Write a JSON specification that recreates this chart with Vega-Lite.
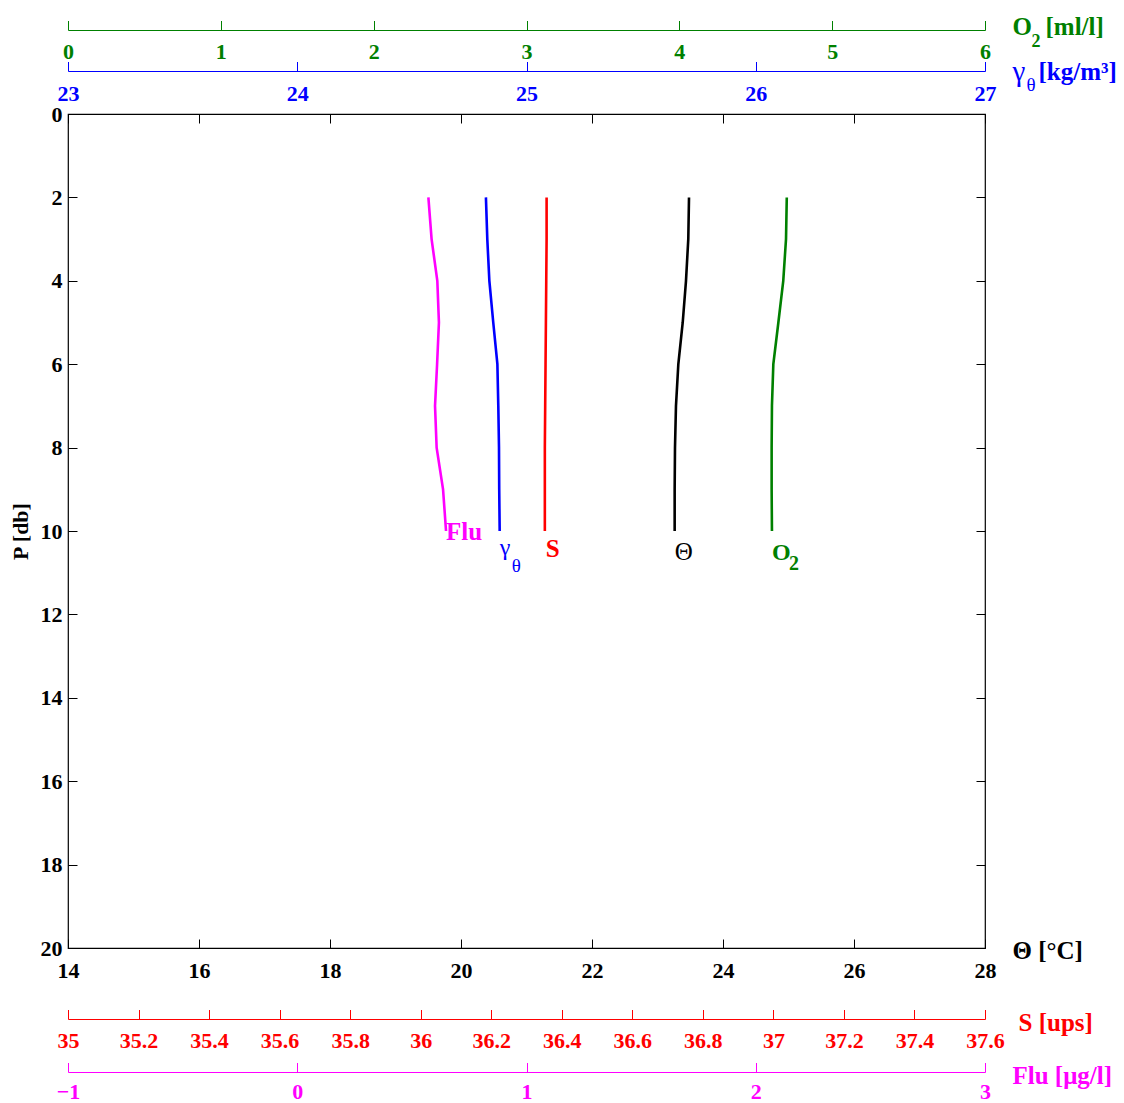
{
  "$schema": "https://vega.github.io/schema/vega-lite/v6.json",
  "width": 917,
  "height": 834,
  "autosize": "none",
  "padding": {"left": 68, "top": 114, "right": 139, "bottom": 155},
  "background": "white",
  "config": {
    "view": {"stroke": "black", "strokeWidth": 1.2},
    "axis": {
      "grid": false,
      "labelFont": "Liberation Serif",
      "labelFontSize": 22,
      "labelFontWeight": "bold",
      "labelFlush": false,
      "labelOverlap": false,
      "labelBound": false,
      "titleFont": "Liberation Serif",
      "titleFontWeight": "bold",
      "titleFontSize": 25,
      "tickWidth": 1,
      "domainWidth": 1,
      "tickColor": "black",
      "labelColor": "black",
      "titleColor": "black"
    },
    "text": {"font": "Liberation Serif"}
  },
  "datasets": {
    "profiles": [
      {"P": 2, "theta": 23.481, "S": 36.357, "flu": 0.572, "O2": 4.703, "gamma": 24.823},
      {"P": 3, "theta": 23.470, "S": 36.357, "flu": 0.586, "O2": 4.698, "gamma": 24.829},
      {"P": 4, "theta": 23.435, "S": 36.356, "flu": 0.611, "O2": 4.680, "gamma": 24.838},
      {"P": 5, "theta": 23.385, "S": 36.355, "flu": 0.618, "O2": 4.648, "gamma": 24.855},
      {"P": 6, "theta": 23.318, "S": 36.354, "flu": 0.610, "O2": 4.615, "gamma": 24.873},
      {"P": 7, "theta": 23.282, "S": 36.353, "flu": 0.601, "O2": 4.606, "gamma": 24.877},
      {"P": 8, "theta": 23.267, "S": 36.352, "flu": 0.608, "O2": 4.604, "gamma": 24.880},
      {"P": 9, "theta": 23.262, "S": 36.352, "flu": 0.636, "O2": 4.604, "gamma": 24.881},
      {"P": 10, "theta": 23.262, "S": 36.352, "flu": 0.649, "O2": 4.606, "gamma": 24.883}
    ]
  },
  "data": {"name": "profiles"},
  "resolve": {"scale": {"x": "independent"}, "axis": {"x": "independent", "y": "independent"}},
  "layer": [
    {
      "mark": {"type": "line", "color": "black", "strokeWidth": 2.6},
      "encoding": {
        "x": {"field": "theta", "type": "quantitative", "scale": {"domain": [14, 28], "nice": false, "zero": false},
          "axis": {"orient": "bottom", "values": [14, 16, 18, 20, 22, 24, 26, 28], "tickSize": -9, "labelPadding": 38, "labelBaseline": "alphabetic", "domain": false,
            "title": "Θ [°C]", "titleX": 944, "titleY": 2, "titleAlign": "left", "titleBaseline": "middle", "titleAngle": 0}},
        "y": {"field": "P", "type": "quantitative", "scale": {"domain": [0, 20], "reverse": true, "nice": false, "zero": false},
          "axis": {"orient": "left", "values": [0, 2, 4, 6, 8, 10, 12, 14, 16, 18, 20], "tickSize": -9, "labelPadding": 15, "labelBaseline": "middle", "domain": false,
            "title": "P [db]", "titleFontSize": 22, "titleX": -48, "titleY": 417, "titleAngle": 270, "titleAlign": "center", "titleBaseline": "middle"}},
        "order": {"field": "P", "type": "quantitative"}
      }
    },
    {
      "transform": [{"filter": "datum.P == 10"}],
      "mark": {"type": "text", "text": "Θ", "align": "left", "baseline": "alphabetic", "dy": 29, "fontSize": 25, "color": "black"},
      "encoding": {
        "x": {"field": "theta", "type": "quantitative", "scale": {"domain": [14, 28], "nice": false, "zero": false},
          "axis": {"orient": "top", "values": [14, 16, 18, 20, 22, 24, 26, 28], "tickSize": -9, "labels": false, "domain": false, "title": null}},
        "y": {"field": "P", "type": "quantitative",
          "axis": {"orient": "right", "values": [0, 2, 4, 6, 8, 10, 12, 14, 16, 18, 20], "tickSize": -9, "labels": false, "domain": false, "title": null}}
      }
    },
    {
      "mark": {"type": "line", "color": "#ff0000", "strokeWidth": 2.6},
      "encoding": {
        "x": {"field": "S", "type": "quantitative", "scale": {"domain": [35, 37.6], "nice": false, "zero": false},
          "axis": {"orient": "bottom", "offset": 71, "values": [35, 35.2, 35.4, 35.6, 35.8, 36, 36.2, 36.4, 36.6, 36.8, 37, 37.2, 37.4, 37.6], "format": "~g",
            "tickSize": -9.5, "labelPadding": 38, "labelBaseline": "alphabetic", "domain": true,
            "domainColor": "#ff0000", "tickColor": "#ff0000", "labelColor": "#ff0000", "titleColor": "#ff0000",
            "title": "S [ups]", "titleX": 950, "titleY": 3, "titleAlign": "left", "titleBaseline": "middle", "titleAngle": 0}},
        "y": {"field": "P", "type": "quantitative", "axis": null},
        "order": {"field": "P", "type": "quantitative"}
      }
    },
    {
      "transform": [{"filter": "datum.P == 10"}],
      "mark": {"type": "text", "text": "S", "align": "left", "baseline": "alphabetic", "dx": 1, "dy": 26, "fontSize": 25, "fontWeight": "bold", "color": "#ff0000"},
      "encoding": {
        "x": {"field": "S", "type": "quantitative", "scale": {"domain": [35, 37.6], "nice": false, "zero": false}, "axis": null},
        "y": {"field": "P", "type": "quantitative", "axis": null}
      }
    },
    {
      "mark": {"type": "line", "color": "#ff00ff", "strokeWidth": 2.6},
      "encoding": {
        "x": {"field": "flu", "type": "quantitative", "scale": {"domain": [-1, 3], "nice": false, "zero": false},
          "axis": {"orient": "bottom", "offset": 124, "values": [-1, 0, 1, 2, 3], "format": "~g",
            "tickSize": -9.5, "labelPadding": 36, "labelBaseline": "alphabetic", "domain": true,
            "domainColor": "#ff00ff", "tickColor": "#ff00ff", "labelColor": "#ff00ff", "titleColor": "#ff00ff",
            "title": "Flu [μg/l]", "titleX": 944, "titleY": 3, "titleAlign": "left", "titleBaseline": "middle", "titleAngle": 0}},
        "y": {"field": "P", "type": "quantitative", "axis": null},
        "order": {"field": "P", "type": "quantitative"}
      }
    },
    {
      "transform": [{"filter": "datum.P == 10"}],
      "mark": {"type": "text", "text": "Flu", "align": "left", "baseline": "alphabetic", "dx": 0, "dy": 9, "fontSize": 25, "fontWeight": "bold", "color": "#ff00ff"},
      "encoding": {
        "x": {"field": "flu", "type": "quantitative", "scale": {"domain": [-1, 3], "nice": false, "zero": false}, "axis": null},
        "y": {"field": "P", "type": "quantitative", "axis": null}
      }
    },
    {
      "mark": {"type": "line", "color": "#008000", "strokeWidth": 2.6},
      "encoding": {
        "x": {"field": "O2", "type": "quantitative", "scale": {"domain": [0, 6], "nice": false, "zero": false},
          "axis": {"orient": "top", "offset": 84, "values": [0, 1, 2, 3, 4, 5, 6], "format": "~g",
            "tickSize": 9.5, "labelPadding": -38, "labelBaseline": "alphabetic", "domain": true,
            "domainColor": "#008000", "tickColor": "#008000", "labelColor": "#008000", "titleColor": "#008000",
            "title": "O", "titleX": 944, "titleY": -4, "titleAlign": "left", "titleBaseline": "middle", "titleAngle": 0}},
        "y": {"field": "P", "type": "quantitative", "axis": null},
        "order": {"field": "P", "type": "quantitative"}
      }
    },
    {
      "transform": [{"filter": "datum.P == 10"}],
      "mark": {"type": "text", "text": "O", "align": "left", "baseline": "alphabetic", "dx": 0, "dy": 29, "fontSize": 24, "fontWeight": "bold", "color": "#008000"},
      "encoding": {
        "x": {"field": "O2", "type": "quantitative", "scale": {"domain": [0, 6], "nice": false, "zero": false},
          "axis": {"orient": "top", "offset": 84, "ticks": false, "labels": false, "domain": false,
            "titleColor": "#008000", "title": "2", "titleFontSize": 18, "titleX": 963, "titleY": 11, "titleAlign": "left", "titleBaseline": "middle", "titleAngle": 0}},
        "y": {"field": "P", "type": "quantitative", "axis": null}
      }
    },
    {
      "transform": [{"filter": "datum.P == 10"}],
      "mark": {"type": "text", "text": "2", "align": "left", "baseline": "alphabetic", "dx": 17, "dy": 39, "fontSize": 20, "fontWeight": "bold", "color": "#008000"},
      "encoding": {
        "x": {"field": "O2", "type": "quantitative", "scale": {"domain": [0, 6], "nice": false, "zero": false},
          "axis": {"orient": "top", "offset": 84, "ticks": false, "labels": false, "domain": false,
            "titleColor": "#008000", "title": "[ml/l]", "titleX": 977, "titleY": -4, "titleAlign": "left", "titleBaseline": "middle", "titleAngle": 0}},
        "y": {"field": "P", "type": "quantitative", "axis": null}
      }
    },
    {
      "mark": {"type": "line", "color": "#0000ff", "strokeWidth": 2.6},
      "encoding": {
        "x": {"field": "gamma", "type": "quantitative", "scale": {"domain": [23, 27], "nice": false, "zero": false},
          "axis": {"orient": "top", "offset": 43, "values": [23, 24, 25, 26, 27], "format": "~g",
            "tickSize": 9.5, "labelPadding": -38.5, "labelBaseline": "alphabetic", "domain": true,
            "domainColor": "#0000ff", "tickColor": "#0000ff", "labelColor": "#0000ff", "titleColor": "#0000ff",
            "title": "γ", "titleFontWeight": "normal", "titleFontSize": 29, "titleX": 944, "titleY": 0, "titleAlign": "left", "titleBaseline": "middle", "titleAngle": 0}},
        "y": {"field": "P", "type": "quantitative", "axis": null},
        "order": {"field": "P", "type": "quantitative"}
      }
    },
    {
      "transform": [{"filter": "datum.P == 10"}],
      "mark": {"type": "text", "text": "γ", "align": "left", "baseline": "alphabetic", "dx": 0, "dy": 24, "fontSize": 24, "color": "#0000ff"},
      "encoding": {
        "x": {"field": "gamma", "type": "quantitative", "scale": {"domain": [23, 27], "nice": false, "zero": false},
          "axis": {"orient": "top", "offset": 43, "ticks": false, "labels": false, "domain": false,
            "titleColor": "#0000ff", "title": "θ", "titleFontWeight": "normal", "titleFontSize": 19, "titleX": 958, "titleY": 13, "titleAlign": "left", "titleBaseline": "middle", "titleAngle": 0}},
        "y": {"field": "P", "type": "quantitative", "axis": null}
      }
    },
    {
      "transform": [{"filter": "datum.P == 10"}],
      "mark": {"type": "text", "text": "θ", "align": "left", "baseline": "alphabetic", "dx": 12, "dy": 41, "fontSize": 19, "color": "#0000ff"},
      "encoding": {
        "x": {"field": "gamma", "type": "quantitative", "scale": {"domain": [23, 27], "nice": false, "zero": false},
          "axis": {"orient": "top", "offset": 43, "ticks": false, "labels": false, "domain": false,
            "titleColor": "#0000ff", "title": "[kg/m³]", "titleX": 970, "titleY": 0, "titleAlign": "left", "titleBaseline": "middle", "titleAngle": 0}},
        "y": {"field": "P", "type": "quantitative", "axis": null}
      }
    }
  ]
}
